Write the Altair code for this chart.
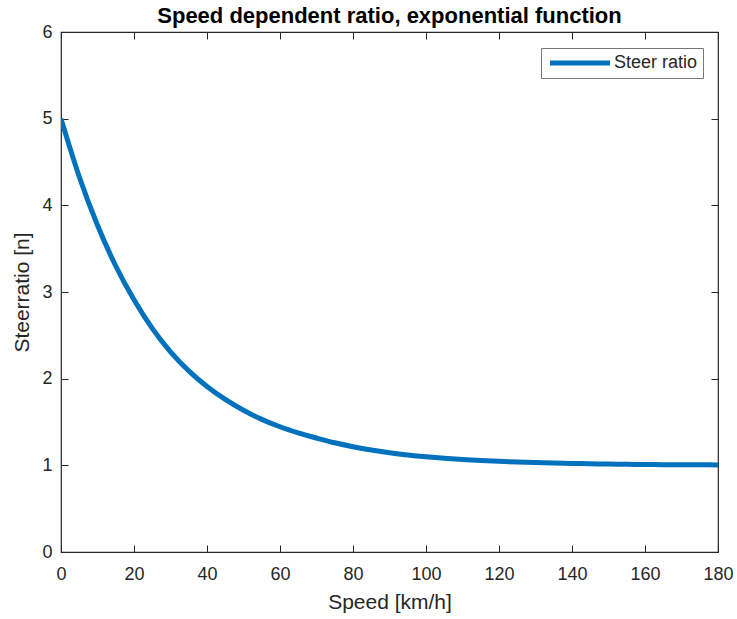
import altair as alt
import pandas as pd

speed = [0, 5, 10, 15, 20, 25, 30, 35, 40, 45, 50, 55, 60, 65, 70, 75, 80, 85, 90,
         95, 100, 105, 110, 115, 120, 125, 130, 135, 140, 145, 150, 155, 160, 165,
         170, 175, 180]
ratio = [5.00, 4.33, 3.77, 3.30, 2.91, 2.58, 2.31, 2.09, 1.91, 1.76, 1.635, 1.53, 1.445,
         1.375, 1.315, 1.26, 1.215, 1.177, 1.146, 1.12, 1.099, 1.082, 1.068, 1.056, 1.046,
         1.038, 1.032, 1.026, 1.022, 1.018, 1.015, 1.012, 1.010, 1.008, 1.007, 1.006,
         1.005]
series = "Steer ratio"

df = pd.DataFrame({"speed": speed, "ratio": ratio, "series": series})

FONT = "Liberation Sans"
TXT = "#262626"
TICK = 7

xs = alt.Scale(domain=[0, 180], nice=False, zero=False)
ys = alt.Scale(domain=[0, 6], nice=False, zero=False)

base = alt.Chart(df)

main = base.mark_line(strokeWidth=5, interpolate="monotone", clip=True).encode(
    x=alt.X("speed:Q", scale=xs,
            axis=alt.Axis(orient="bottom", values=list(range(0, 181, 20)), offset=-TICK,
                          tickSize=TICK, tickColor=TXT, domain=False, grid=False,
                          labelFlush=False, labelOverlap=False,
                          labelPadding=13, labelFontSize=18, labelColor=TXT, labelFont=FONT,
                          title="Speed [km/h]", titleFontSize=21, titleFont=FONT,
                          titleColor=TXT, titleFontWeight="normal", titlePadding=8)),
    y=alt.Y("ratio:Q", scale=ys,
            axis=alt.Axis(orient="left", values=list(range(0, 7)), offset=-TICK,
                          tickSize=TICK, tickColor=TXT, domain=False, grid=False,
                          labelFlush=False, labelOverlap=False,
                          labelPadding=9, labelFontSize=18, labelColor=TXT, labelFont=FONT,
                          title="Steerratio [n]", titleFontSize=21, titleFont=FONT,
                          titleColor=TXT, titleFontWeight="normal", titlePadding=9)),
    color=alt.Color("series:N", scale=alt.Scale(range=["#0072BD"]),
                    legend=alt.Legend(title=None, orient="none", legendX=480, legendY=16,
                                      symbolType="M-4,0H4", symbolStrokeWidth=5,
                                      symbolSize=225, symbolOffset=24,
                                      symbolFillColor="transparent",
                                      labelFontSize=18, labelFont=FONT,
                                      labelColor=TXT, strokeColor="#777777",
                                      fillColor="white", padding=5, labelOffset=24)),
)

frame = base.mark_line(opacity=0).encode(
    x=alt.X("speed:Q", scale=xs,
            axis=alt.Axis(orient="top", values=list(range(0, 181, 20)), offset=-TICK,
                          tickSize=TICK, tickColor=TXT, domain=False, grid=False,
                          labels=False, title=None)),
    y=alt.Y("ratio:Q", scale=ys,
            axis=alt.Axis(orient="right", values=list(range(0, 7)), offset=-TICK,
                          tickSize=TICK, tickColor=TXT, domain=False, grid=False,
                          labels=False, title=None)),
)

chart = alt.layer(main, frame).resolve_axis(x="independent", y="independent").properties(
    width=657, height=520,
    autosize=alt.AutoSizeParams(type="none"),
    padding={"left": 61, "top": 32, "right": 19, "bottom": 67},
    title=alt.Title("Speed dependent ratio, exponential function", fontSize=22,
                    font=FONT, fontWeight="bold", color="black", anchor="middle",
                    offset=-5),
    background="white",
).configure_view(stroke=TXT, strokeWidth=1.2)

chart.save("out.html", embed_options={"renderer": "svg", "actions": False})
